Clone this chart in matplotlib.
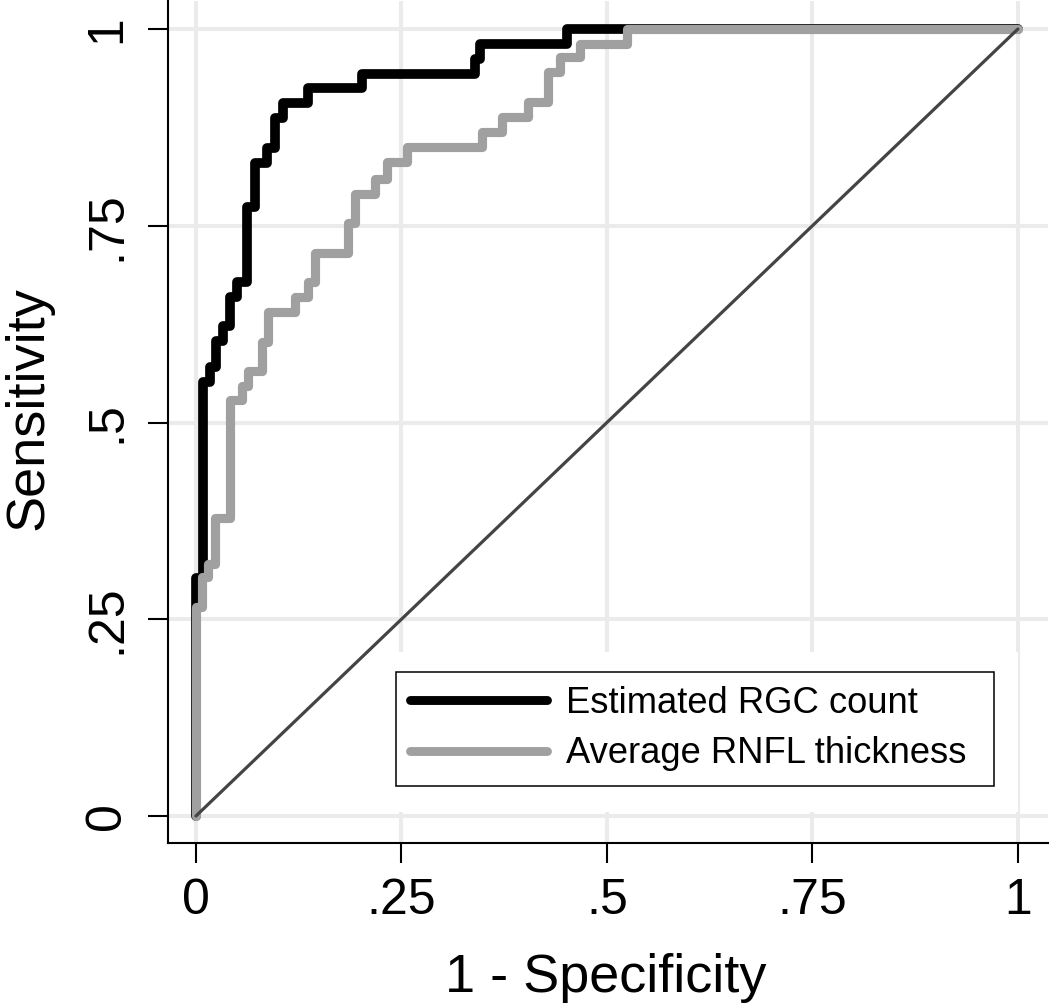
import matplotlib
matplotlib.use("Agg")
import matplotlib.pyplot as plt
from matplotlib.patches import Rectangle

plt.rcParams['font.family'] = ['Liberation Sans', 'DejaVu Sans']

# ROC corner points (1 - specificity, sensitivity)
rgc_fpr = [0.0, 0.0, 0.009, 0.017, 0.025, 0.033, 0.041, 0.050, 0.062, 0.072,
           0.087, 0.096, 0.106, 0.136, 0.202, 0.339, 0.346, 0.451, 1.0]
rgc_tpr = [0.0, 0.302, 0.551, 0.570, 0.604, 0.623, 0.660, 0.679, 0.774, 0.830,
           0.849, 0.887, 0.906, 0.925, 0.943, 0.962, 0.981, 1.0, 1.0]

rnfl_fpr = [0.0, 0.0, 0.007, 0.015, 0.023, 0.041, 0.056, 0.063, 0.080, 0.088,
            0.120, 0.136, 0.145, 0.185, 0.193, 0.218, 0.232, 0.257, 0.348,
            0.372, 0.404, 0.428, 0.443, 0.467, 0.524, 1.0]
rnfl_tpr = [0.0, 0.265, 0.304, 0.320, 0.379, 0.529, 0.546, 0.565, 0.602, 0.641,
            0.659, 0.678, 0.716, 0.754, 0.790, 0.809, 0.831, 0.850, 0.869,
            0.888, 0.907, 0.945, 0.964, 0.981, 1.0, 1.0]

ticks = [0, 0.25, 0.5, 0.75, 1]
tick_labels = ['0', '.25', '.5', '.75', '1']
series_names = ['Estimated RGC count', 'Average RNFL thickness']

fig = plt.figure(figsize=(10.5, 10.05), dpi=100)
ax = fig.add_axes([0.16, 0.1612, 0.838, 0.8378])

ax.set_xlim(-0.034, 1.0365)
ax.set_ylim(-0.0343, 1.0356)

ax.grid(True, color='#ebebeb', lw=2.9)
ax.set_axisbelow(True)

# white area Stata leaves round the legend
ax.add_patch(Rectangle((0.241, 0.0368), 0.725, 0.19, transform=ax.transAxes,
                       facecolor='white', edgecolor='none', zorder=1))

l1, = ax.plot(rgc_fpr, rgc_tpr, drawstyle='steps-post', color='black', lw=7.0,
              solid_joinstyle='round', solid_capstyle='round', zorder=3)
l2, = ax.plot(rnfl_fpr, rnfl_tpr, drawstyle='steps-post', color='#a0a0a0', lw=6.6,
              solid_joinstyle='round', solid_capstyle='round', zorder=4)
ax.plot([0, 1], [0, 1], color='#444444', lw=2.3, solid_capstyle='round', zorder=5)

for side in ['top', 'right']:
    ax.spines[side].set_visible(False)
for side in ['left', 'bottom']:
    ax.spines[side].set_linewidth(1.5)

ax.set_xticks(ticks)
ax.set_xticklabels(tick_labels, fontsize=36)
ax.set_yticks(ticks)
ax.set_yticklabels(tick_labels, fontsize=36, rotation=90, va='center')
ax.tick_params(axis='both', length=14.4, width=1.5, color='black')
ax.tick_params(axis='x', pad=11)
ax.tick_params(axis='y', pad=13)

ax.set_xlabel('1 - Specificity', fontsize=39)
ax.set_ylabel('Sensitivity', fontsize=39)
ax.xaxis.set_label_coords(0.498, -0.131)
ax.yaxis.set_label_coords(-0.13, 0.516)

leg = ax.legend([l1, l2], series_names, loc='lower left', mode='expand',
                bbox_to_anchor=(0.259, 0.0677, 0.6795, 0.14), fontsize=26.2,
                frameon=True, fancybox=False, framealpha=1, edgecolor='black',
                handlelength=3.75, handletextpad=0.52, borderpad=0.4,
                labelspacing=0.42, borderaxespad=0)
leg.get_frame().set_linewidth(1.1)
for h in leg.legend_handles:
    h.set_linewidth(6.4)
    h.set_solid_capstyle('round')
leg.set_zorder(6)

fig.savefig('out.png', dpi=100)
